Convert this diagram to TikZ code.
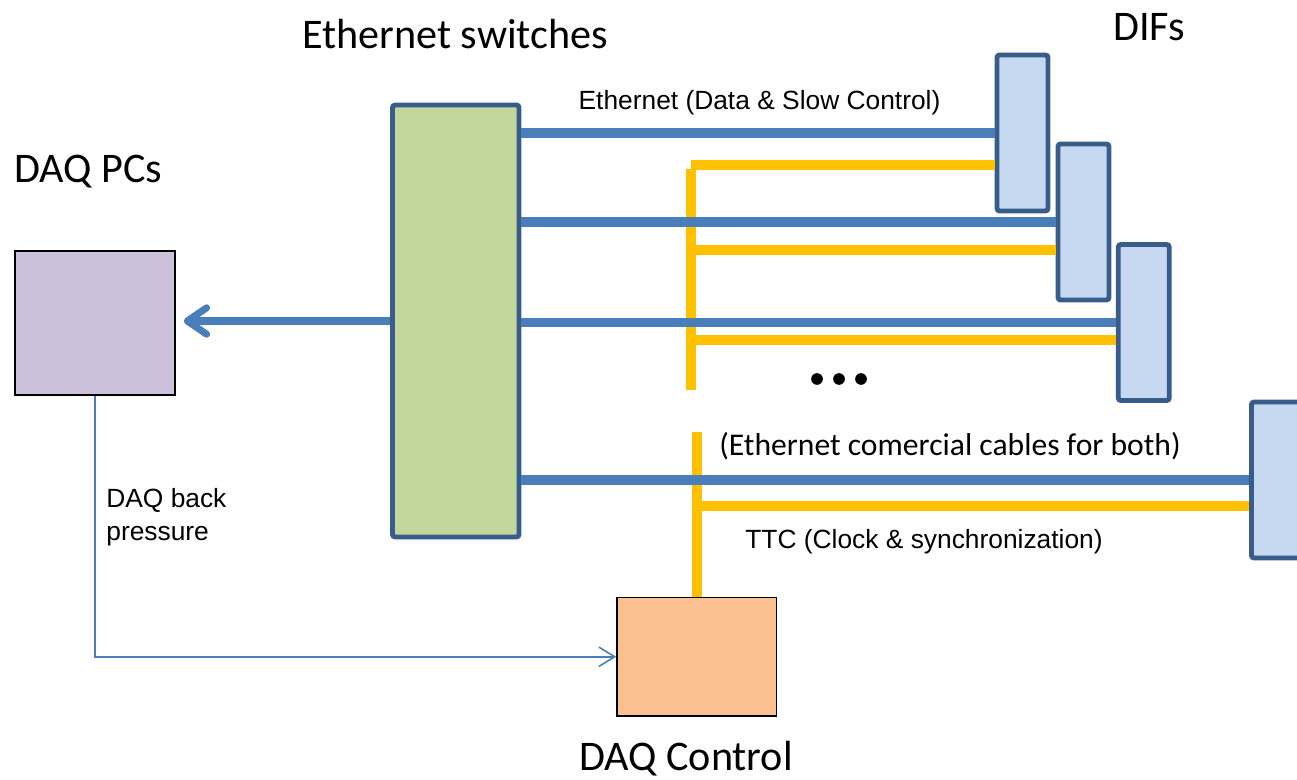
\documentclass[tikz,border=0pt]{standalone}
\usepackage{fontspec}
\setmainfont{Carlito}
\newfontfamily\arialfont{Liberation Sans}
\usetikzlibrary{arrows.meta}

\definecolor{ethblue}{HTML}{4A7EBB}
\definecolor{boxblue}{HTML}{385D8A}
\definecolor{ttcyellow}{HTML}{FFC000}
\definecolor{swgreen}{HTML}{C3D69B}
\definecolor{diffill}{HTML}{C6D9F1}
\definecolor{pcfill}{HTML}{CCC1DA}
\definecolor{ctrlfill}{HTML}{FAC090}

\begin{document}
\begin{tikzpicture}[x=0.02cm, y=-0.02cm,
    difbox/.style={draw=boxblue, fill=diffill, line width=2.8pt, rounded corners=1.5pt,
      minimum width=1.02cm, minimum height=3.12cm},
    ethline/.style={draw=ethblue, line width=5.6pt},
    ttcline/.style={draw=ttcyellow, line width=5.4pt},
    title/.style={font=\fontsize{24}{28}\selectfont, inner sep=0pt},
    note/.style={font=\arialfont\fontsize{15}{18.7}\selectfont, inner sep=0pt}]
    \useasboundingbox (0,0) rectangle (1297,780);

    % boxes
    \node[draw=black, fill=pcfill, line width=0.9pt, minimum width=3.2cm, minimum height=2.88cm] (pcs) at (95,323) {};
    \node[draw=boxblue, fill=swgreen, line width=2.8pt, rounded corners=1.5pt,
          minimum width=2.53cm, minimum height=8.64cm] (sw) at (455.75,321) {};
    \node[draw=black, fill=ctrlfill, line width=0.9pt, minimum width=3.19cm, minimum height=2.37cm] (ctrl) at (696.75,656.75) {};

    \node[difbox] (dif1) at (1022.5,133) {};
    \node[difbox] (dif2) at (1083.5,222) {};
    \node[difbox] (dif3) at (1143.75,322.5) {};
    \node[difbox] (dif4) at (1277,480) {};

    % TTC distribution
    \coordinate (busA) at (691,169);
    \coordinate (busB) at (691,390);
    \coordinate (busC) at (ctrl.north |- 0,432);
    \coordinate (tap1) at (691,165);
    \coordinate (tap2) at (691,250);
    \coordinate (tap3) at (691,340);
    \coordinate (tap4) at (696,506);
    \draw[ttcline] (busA) -- (busB);
    \draw[ttcline] (busC) -- (ctrl.north);
    \draw[ttcline] (tap1) -- (tap1 -| dif1.west);
    \draw[ttcline] (tap2) -- (tap2 -| dif2.west);
    \draw[ttcline] (tap3) -- (tap3 -| dif3.west);
    \draw[ttcline] (tap4) -- (tap4 -| dif4.west);

    % ethernet links
    \draw[ethline] (sw.east |- dif1.west) -- (dif1.west);
    \draw[ethline] (sw.east |- dif2.west) -- (dif2.west);
    \draw[ethline] (sw.east |- dif3.west) -- (dif3.west);
    \draw[ethline] (sw.east |- dif4.west) -- (dif4.west);
    \draw[ethblue, line width=4pt, -{Straight Barb[round, length=11pt, width=15pt]}]
        (sw.west |- 0,321) -- ([xshift=0.16cm]pcs.east |- 0,321);

    % back pressure
    \draw[ethblue, line width=0.9pt, -{Straight Barb[length=9pt, width=11pt]}]
        (pcs.south) |- (ctrl.west);

    % labels
    \node[title] (swtitle) at (455,34) {Ethernet switches};
    \node[title] (diftitle) at (1149,27) {DIFs};
    \node[title] (pctitle) at (88,172) {DAQ PCs};
    \node[title] (ctrltitle) at (686,759) {DAQ Control};
    \node[note] (ethlabel) at (759.5,103) {Ethernet (Data \& Slow Control)};
    \node[note] (ttclabel) at (924,542) {TTC (Clock \& synchronization)};
    \node[font=\fontsize{18}{22}\selectfont, inner sep=0pt] (cablelabel) at (950,446) {(Ethernet comercial cables for both)};
    \node[note, align=left, anchor=west] (bplabel) at (106,517) {DAQ back\\pressure};

    % more DIFs
    \foreach \dx in {817,839,861}
        \fill (\dx,379) circle[radius=0.117cm];
\end{tikzpicture}
\end{document}
